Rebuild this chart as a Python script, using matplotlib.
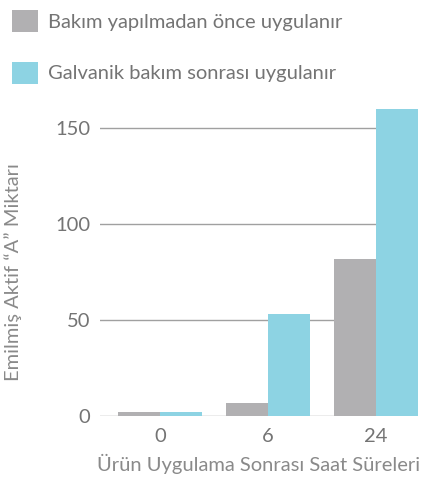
import numpy as np
import matplotlib.pyplot as plt

plt.rcParams['font.family'] = ['Lato', 'DejaVu Sans']

# veriler
saatler = ['0', '6', '24']
once = [2, 7, 82]
sonra = [2, 53, 160]
seri_adlari = ['Bakım yapılmadan önce uygulanır', 'Galvanik bakım sonrası uygulanır']

gri = '#b1b0b2'
mavi = '#8dd3e3'
yazi = '#747474'

fig = plt.figure(figsize=(4.24, 4.8), dpi=100)
ax = fig.add_axes([100/424, 1 - 416/480, 318/424, (416 - 109)/480])

x = np.arange(len(saatler))
w = 0.39
b1 = ax.bar(x - w/2, once, w, color=gri, zorder=3)
b2 = ax.bar(x + w/2, sonra, w, color=mavi, zorder=3)

ax.set_xlim(-0.553, 2.39)
ax.set_ylim(0, 160)
ax.set_yticks([0, 50, 100, 150])
ax.set_xticks(x)
ax.set_xticklabels(saatler)
ax.yaxis.grid(True, color='#a0a0a0', linewidth=1, zorder=0)
for s in ax.spines.values():
    s.set_visible(False)
ax.tick_params(axis='both', length=0, labelsize=14.5, labelcolor=yazi, pad=7)
ax.tick_params(axis='x', pad=9)

ax.set_ylabel('Emilmiş Aktif “A” Miktarı', fontsize=14.5, color='#8a8a8a')
ax.yaxis.set_label_coords(-0.245, 0.47)
ax.set_xlabel('Ürün Uygulama Sonrası Saat Süreleri', fontsize=14.5, color='#8a8a8a',
              labelpad=6)

fig.legend([b1, b2], seri_adlari, loc='upper left', bbox_to_anchor=(-0.014, 1.016),
           frameon=False, labelcolor=yazi, handlelength=1.3,
           handleheight=1.3, labelspacing=1.45, handletextpad=0.5,
           prop={'size': 14.5})

fig.savefig('out.png', dpi=100)
